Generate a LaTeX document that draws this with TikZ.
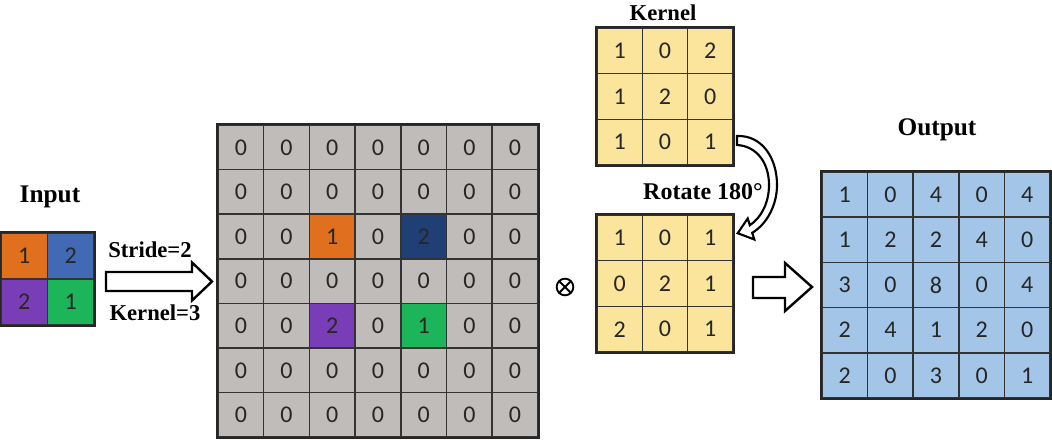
\documentclass[tikz,border=0pt]{standalone}
\usepackage{fontspec}
\setmainfont{Liberation Serif}
\newfontfamily\numfont{Carlito}
\definecolor{zgray}{HTML}{C0BCBA}
\definecolor{zorange}{HTML}{E0701E}
\definecolor{zblue}{HTML}{4169B4}
\definecolor{znavy}{HTML}{1F3F75}
\definecolor{zpurple}{HTML}{7A3DB8}
\definecolor{zgreen}{HTML}{1DB55A}
\definecolor{zyellow}{HTML}{FBE49C}
\definecolor{zlblue}{HTML}{A3C6E8}
\begin{document}
\begin{tikzpicture}[x=0.75pt,y=-0.75pt,
  cell/.style n args={2}{draw=black!80, line width=1.1pt, minimum width=#1, minimum height=#2,
     inner sep=0pt, font=\numfont\fontsize{18}{18}\selectfont, text=black!85},
  title/.style={font=\bfseries\fontsize{#1}{#1}\selectfont, inner sep=0pt},
  frame/.style={draw=black!85, line width=1.6pt},
  blockarrow/.style={draw=black, line width=1.8pt, fill=white, line join=miter},
  otimesmark/.style={circle, draw=black, line width=1.4pt, minimum size=12.5pt, inner sep=0pt,
     path picture={\draw[line width=1.4pt] (path picture bounding box.north west) -- (path picture bounding box.south east)
                     (path picture bounding box.north east) -- (path picture bounding box.south west);}}]
\useasboundingbox (0,0) rectangle (1052,439);

% Input grid
\foreach \row [count=\r from 0] in {{1/zorange,2/zblue},{2/zpurple,1/zgreen}}{
  \foreach \v/\fc [count=\c from 0] in \row {
    \node[cell={34.9pt}{34.5pt}, fill=\fc] (I-\r-\c) at ({1+(\c+0.5)*46.5},{233+(\r+0.5)*46}) {\v};
  }}
\draw[frame] (I-0-0.north west) rectangle (I-1-1.south east);
\node[title=19] (tin) at (50,197) {Input};

% Stride arrow
\node[title=17] (tstride) at (150,250) {Stride=2};
\node[title=17] (tkern3) at (155,313) {Kernel=3};
\draw[blockarrow] (106,272) -- (192,272) -- (192,262.5) -- (212,281.5) -- (192,300.5) -- (192,291) -- (106,291) -- cycle;

% Padded grid
\foreach \r in {0,...,6}{\foreach \c in {0,...,6}{
  \def\fc{zgray}\def\v{0}
  \ifnum\r=2 \ifnum\c=2 \def\fc{zorange}\def\v{1}\fi \ifnum\c=4 \def\fc{znavy}\def\v{2}\fi\fi
  \ifnum\r=4 \ifnum\c=2 \def\fc{zpurple}\def\v{2}\fi \ifnum\c=4 \def\fc{zgreen}\def\v{1}\fi\fi
  \node[cell={34.28pt}{33.45pt}, fill=\fc] (P-\r-\c) at ({218+(\c+0.5)*45.7},{125+(\r+0.5)*44.6}) {\v};
}}
\draw[frame] (P-0-0.north west) rectangle (P-6-6.south east);

% Otimes
\node[otimesmark] (otimes) at (565,287) {};

% Kernel
\node[title=17] (tkernel) at (663,13) {Kernel};
\foreach \row [count=\r from 0] in {{1,0,2},{1,2,0},{1,0,1}}{
  \foreach \v [count=\c from 0] in \row {
    \node[cell={34pt}{34.3pt}, fill=zyellow] (K-\r-\c) at ({597+(\c+0.5)*45.3},{28+(\r+0.5)*45.7}) {\v};
  }}
\draw[frame] (K-0-0.north west) rectangle (K-2-2.south east);

% Rotated kernel
\foreach \row [count=\r from 0] in {{1,0,1},{0,2,1},{2,0,1}}{
  \foreach \v [count=\c from 0] in \row {
    \node[cell={34pt}{34.3pt}, fill=zyellow] (R-\r-\c) at ({597+(\c+0.5)*45.3},{215+(\r+0.5)*45.7}) {\v};
  }}
\draw[frame] (R-0-0.north west) rectangle (R-2-2.south east);
\node[title=18] (trot) at (703,192) {Rotate 180°};

% Curved arrow
\draw[draw=black, line width=1.6pt, fill=white, line join=miter]
  (737,136) .. controls (762,135) and (777,158) .. (777,185)
  .. controls (777,205) and (767,224) .. (752.2,232.8)
  -- (754.3,239.5) -- (737.7,233.2) -- (747.7,218.5) -- (749.8,225.2)
  .. controls (761,218) and (769,203) .. (769,185)
  .. controls (769,162) and (756,146) .. (737,145) -- cycle;

% Output arrow
\draw[blockarrow] (753,277) -- (785,277) -- (785,263) -- (812,287) -- (785,311) -- (785,298) -- (753,298) -- cycle;

% Output
\node[title=19] (tout) at (937,130) {Output};
\foreach \row [count=\r from 0] in {{1,0,4,0,4},{1,2,2,4,0},{3,0,8,0,4},{2,4,1,2,0},{2,0,3,0,1}}{
  \foreach \v [count=\c from 0] in \row {
    \node[cell={34.2pt}{33.9pt}, fill=zlblue] (O-\r-\c) at ({822+(\c+0.5)*45.6},{172+(\r+0.5)*45.2}) {\v};
  }}
\draw[frame] (O-0-0.north west) rectangle (O-4-4.south east);
\end{tikzpicture}
\end{document}
